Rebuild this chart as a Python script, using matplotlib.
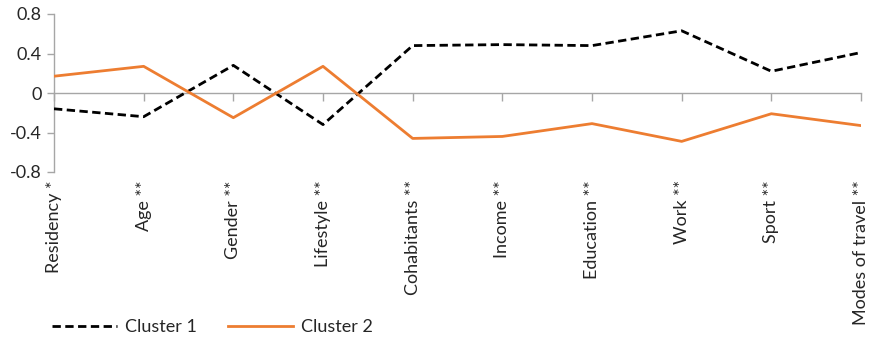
import matplotlib
matplotlib.use("Agg")
import matplotlib.pyplot as plt
from matplotlib.lines import Line2D

categories = ["Residency *", "Age **", "Gender **", "Lifestyle **", "Cohabitants **",
              "Income **", "Education **", "Work **", "Sport **", "Modes of travel **"]
cluster1 = [-0.16, -0.24, 0.28, -0.32, 0.48, 0.49, 0.48, 0.63, 0.22, 0.41]
cluster2 = [0.17, 0.27, -0.25, 0.27, -0.46, -0.44, -0.31, -0.49, -0.21, -0.33]
yticks = [-0.8, -0.4, 0, 0.4, 0.8]
ytick_labels = ["-0.8", "-0.4", "0", "0.4", "0.8"]

plt.rcParams['font.family'] = ['Lato', 'DejaVu Sans']
TXT = "#262626"
AX = "#A6A6A6"
FS = 13

fig = plt.figure(figsize=(8.69, 3.41), dpi=100)
ax = fig.add_axes([54/869, 1-172/341, (861-54)/869, (172-14)/341])
x = list(range(len(categories)))
ax.plot(x, cluster1, color="black", lw=2.0, ls=(0, (3, 1.6)), label="Cluster 1", zorder=3)
ax.plot(x, cluster2, color="#ED7D31", lw=2.0, label="Cluster 2", zorder=3)

ax.set_xlim(0, len(categories)-1)
ax.set_ylim(-0.8, 0.8)
ax.set_yticks(yticks, ytick_labels)
ax.tick_params(axis='y', length=5, width=1, color=AX, labelsize=FS, labelcolor=TXT, pad=4)
for s in ["top", "right"]:
    ax.spines[s].set_visible(False)
ax.spines["left"].set_color(AX)
ax.spines["left"].set_linewidth(1)
ax.spines["bottom"].set_position(("data", 0))
ax.spines["bottom"].set_color(AX)
ax.spines["bottom"].set_linewidth(1)
ax.set_xticks(x)
ax.tick_params(axis='x', length=6, width=1, color=AX, labelbottom=False, direction='out')

sec = ax.secondary_xaxis(0)
sec.set_xticks(x, categories, rotation=90, ha='center', va='top')
sec.tick_params(axis='x', length=0, labelsize=FS, labelcolor=TXT, pad=6)
sec.spines['bottom'].set_visible(False)

handles = [Line2D([], [], color="black", lw=2.0, ls=(0, (3, 1.6))),
           Line2D([], [], color="#ED7D31", lw=2.0)]
fig.legend(handles, ["Cluster 1", "Cluster 2"], loc="center left",
           bbox_to_anchor=(52/869, 1-327/341), ncol=2, frameon=False,
           fontsize=FS, handlelength=3.6, columnspacing=1.7, handletextpad=0.45,
           labelcolor=TXT, borderaxespad=0, borderpad=0)

fig.savefig("out.png", dpi=100)
